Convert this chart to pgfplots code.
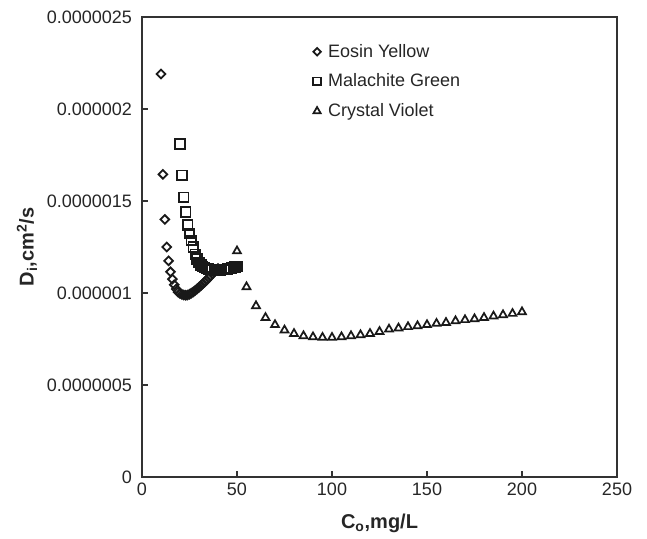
\documentclass[border=0pt]{standalone}
\usepackage{pgfplots}
\pgfplotsset{compat=1.18}
\usepackage{fontspec}
\setmainfont{Liberation Sans}

\pgfplotstableread{
x y
10 2.19e-6
11 1.645e-6
12 1.40e-6
13 1.25e-6
14 1.175e-6
15 1.115e-6
16 1.075e-6
17 1.045e-6
18 1.022e-6
19 1.005e-6
20 0.997e-6
21 0.992e-6
22 0.989e-6
23 0.988e-6
24 0.989e-6
25 0.993e-6
26 0.999e-6
27 1.006e-6
28 1.014e-6
29 1.022e-6
30 1.031e-6
31 1.040e-6
32 1.050e-6
33 1.060e-6
34 1.070e-6
35 1.081e-6
36 1.092e-6
37 1.104e-6
38 1.115e-6
39 1.125e-6
40 1.133e-6
}\eosin

\pgfplotstableread{
x y
20 1.81e-6
21 1.64e-6
22 1.52e-6
23 1.44e-6
24 1.37e-6
25 1.325e-6
26 1.285e-6
27 1.25e-6
28 1.21e-6
29 1.185e-6
30 1.165e-6
31 1.153e-6
32 1.145e-6
33 1.139e-6
34 1.134e-6
35 1.130e-6
36 1.128e-6
37 1.126e-6
38 1.125e-6
39 1.125e-6
40 1.125e-6
41 1.125e-6
42 1.126e-6
43 1.127e-6
44 1.129e-6
45 1.131e-6
46 1.133e-6
47 1.136e-6
48 1.138e-6
49 1.141e-6
50 1.144e-6
}\malachite

\pgfplotstableread{
x y
50 1.228e-6
55 1.033e-6
60 0.930e-6
65 0.866e-6
70 0.827e-6
75 0.798e-6
80 0.779e-6
85 0.767e-6
90 0.761e-6
95 0.758e-6
100 0.758e-6
105 0.761e-6
110 0.767e-6
115 0.772e-6
120 0.779e-6
125 0.790e-6
130 0.803e-6
135 0.809e-6
140 0.816e-6
145 0.821e-6
150 0.827e-6
155 0.834e-6
160 0.839e-6
165 0.848e-6
170 0.854e-6
175 0.859e-6
180 0.866e-6
185 0.874e-6
190 0.881e-6
195 0.888e-6
200 0.897e-6
}\crystal

\begin{document}
\begin{tikzpicture}
\begin{axis}[
  name=main,
  scale only axis,
  width=356.25pt, height=345pt,
  xmin=0, xmax=250, ymin=0, ymax=2.5e-6,
  xtick={0,50,100,150,200,250},
  xticklabels={0,50,100,150,200,250},
  ytick={0,0.5e-6,1e-6,1.5e-6,2e-6,2.5e-6},
  yticklabels={0,0.0000005,0.000001,0.0000015,0.000002,0.0000025},
  scaled y ticks=false, scaled x ticks=false,
  tick align=inside, xtick pos=bottom, ytick pos=left,
  major tick length=4.5pt,
  axis line style={line width=1.2pt, black!80},
  tick style={line width=1pt, black!80},
  tick label style={font=\fontsize{13.5}{16}\selectfont, text=black!85},
  yticklabel style={xshift=-4pt},
  xticklabel style={yshift=-1pt},
  xlabel={\textbf{C\textsubscript{o},mg/L}},
  ylabel={\textbf{D\textsubscript{i},cm\textsuperscript{2}/s}},
  every axis x label/.style={at={(axis description cs:0.5,-0.1)}, anchor=center, font=\fontsize{15}{18}\selectfont, text=black!85},
  every axis y label/.style={at={(axis description cs:-0.242,0.5)}, anchor=center, rotate=90, font=\fontsize{15}{18}\selectfont, text=black!85},
  legend style={draw=none, fill=none, at={(axis description cs:0.345,0.953)}, anchor=north west,
    font=\fontsize{13.5}{16}\selectfont, text=black!85, row sep=7pt},
  legend cell align=left,
  legend image code/.code={\path (0pt,-4pt) (11pt,4pt); \draw[mark repeat=2,mark phase=2,#1] plot coordinates {(0pt,0pt) (5pt,0pt) (10pt,0pt)};},
]
\addplot[only marks, mark=square, mark size=2.3pt, black!90, mark options={rotate=45, line width=1.35pt},
  legend image post style={mark size=2.0pt}] table[x=x,y=y] {\eosin};
\addlegendentry{Eosin Yellow}
\addplot[only marks, mark=square, mark size=3.6pt, black!90, mark options={line width=1.3pt},
  legend image post style={mark size=2.9pt}] table[x=x,y=y] {\malachite};
\addlegendentry{Malachite Green}
\addplot[only marks, mark=triangle, mark size=3.4pt, black!90, mark options={line width=1.3pt},
  legend image post style={mark size=3.1pt}] table[x=x,y=y] {\crystal};
\addlegendentry{Crystal Violet}
\end{axis}
\path (main.south west) ++(-106.5pt,-45.75pt) coordinate (bbA);
\path (main.north east) ++(22.5pt,12.75pt) coordinate (bbB);
\path[use as bounding box] (bbA) rectangle (bbB);
\end{tikzpicture}
\end{document}
